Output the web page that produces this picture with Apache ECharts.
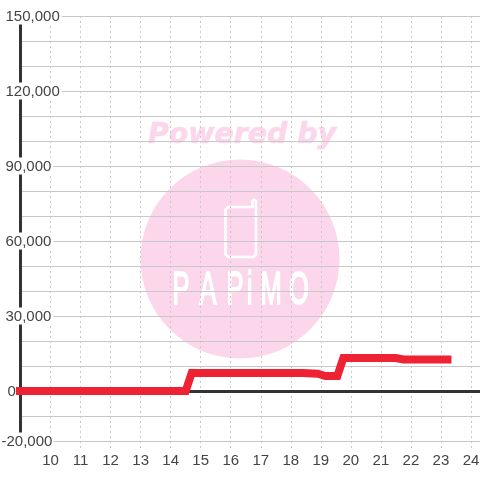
<!DOCTYPE html>
<html>
<head>
<meta charset="utf-8">
<style>html,body{margin:0;padding:0;background:#fff}#c{width:480px;height:480px}</style>
<script src="https://cdn.jsdelivr.net/npm/echarts@6/dist/echarts.min.js"></script>
</head>
<body>
<div id="c"></div>
<script>
const hours = [8.83, 14.5, 14.7, 18.4, 18.9, 19.15, 19.55, 19.75, 21.5, 21.75, 23.35];
const values = [0, 0, 7200, 7200, 6900, 6000, 6000, 13200, 13200, 12600, 12600];
const xTicks = [10,11,12,13,14,15,16,17,18,19,20,21,22,23,24];
const yLabelled = [-20000, 0, 30000, 60000, 90000, 120000, 150000];
const logoLetters = ['P','A','P','i','M','O'];
const logoCentres = [181,208,235,249.5,271,299];

const chart = echarts.init(document.getElementById('c'), null, {renderer:'canvas', width:480, height:480});
const font = 'Liberation Sans';
const pink = '#fcd7ec';
const bg = '#ffffff';
const txt = '#444444';
const fs = 15;
chart.setOption({
  animation:false,
  backgroundColor:'#fff',
  grid:{left:20.5, right:0, top:16, bottom:39, outerBoundsMode:'none', containLabel:false},
  graphic:[
    {type:'circle', z:-1, silent:true, shape:{cx:240, cy:259, r:99.5}, style:{fill:pink}},
    {type:'text', z:-1, silent:true, x:242, y:136, style:{text:'Powered by', fill:pink, stroke:pink, lineWidth:0.7, font:'italic bold 28.4px "DejaVu Sans"', textAlign:'center', textVerticalAlign:'middle'}},
    {type:'polygon', z:-1, silent:true, shape:{points:[[252.5,207],[228,207],[225.5,209.5],[225.5,254.5],[228,257],[253.5,257],[256,254.5],[256,201],[254.2,199.8],[252.5,201]]}, style:{fill:'none', stroke:'#fff', lineWidth:2.6}}
  ].concat(logoLetters.map((ch,i)=>({
    type:'text', z:-1, silent:true, x:logoCentres[i], y:291, scaleX:0.85, scaleY:1.55,
    style:{text:ch, fill:'#fff', stroke:'#fff', lineWidth:1.2, font:'30px "Liberation Sans"', textAlign:'center', textVerticalAlign:'middle'}
  }))),
  xAxis:[
    {type:'value', min:9, max:24.3, interval:1, position:'bottom',
     axisLine:{show:false, onZero:false},
     axisTick:{show:true, length:8, customValues:xTicks, lineStyle:{color:'#c8c8c8', type:[2,3], width:1}},
     axisLabel:{customValues:xTicks, margin:12, color:txt, fontFamily:font, fontSize:fs, hideOverlap:false, showMinLabel:true, showMaxLabel:true},
     splitLine:{show:true, lineStyle:{color:'#c8c8c8', type:[2,3], width:1}}},
    {type:'value', min:9, max:24.3, interval:1,
     axisLine:{show:true, onZero:true, lineStyle:{color:'#333333', width:3}},
     axisTick:{show:false}, axisLabel:{show:false}, splitLine:{show:false}}
  ],
  yAxis:{type:'value', min:-20000, max:150000, interval:10000,
    axisLine:{show:true, onZero:false, lineStyle:{color:'#333333', width:3}},
    axisTick:{show:false},
    axisLabel:{show:true, align:'left', margin:19, color:txt, fontFamily:font, fontSize:fs, showMinLabel:true, showMaxLabel:true,
      formatter:function(v){
        if(yLabelled.indexOf(v)<0) return '';
        const s = v.toLocaleString('en-US');
        return v<0 ? '{n|'+s+'}' : v===0 ? '{z|'+s+'}' : '{p|'+s+'}';
      },
      rich:{
        p:{color:txt, fontFamily:font, fontSize:fs, lineHeight:16, backgroundColor:bg, padding:[2,2,0,4]},
        z:{color:txt, fontFamily:font, fontSize:fs, lineHeight:16, padding:[2,0,0,6]},
        n:{color:txt, fontFamily:font, fontSize:fs, lineHeight:16, backgroundColor:bg, padding:[2,1,0,0]}
      }},
    splitLine:{show:true, lineStyle:{color:'#c8c8c8', width:1}}},
  series:[{type:'line', xAxisIndex:0, showSymbol:false, symbol:'none', clip:false, smooth:false,
    lineStyle:{color:'#ee2233', width:8, cap:'butt', join:'miter'},
    data:hours.map((h,i)=>[h,values[i]])}]
});
</script>
</body>
</html>
